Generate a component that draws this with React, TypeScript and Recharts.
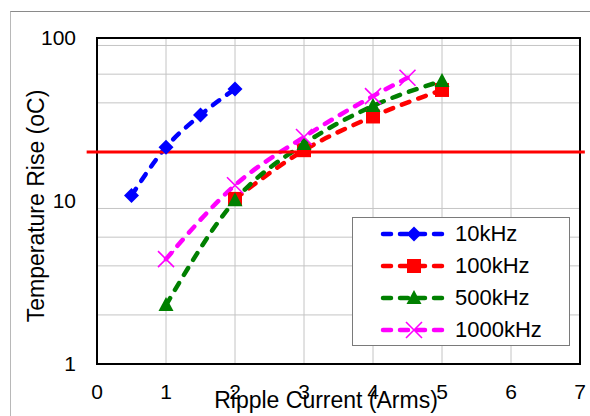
import React from "react";
import {
  LineChart, Line, XAxis, YAxis, CartesianGrid, ReferenceLine, ReferenceArea, Legend,
} from "recharts";

const FONT = '"Liberation Sans", Arial, sans-serif';

// ripple current (Arms) / temperature rise (oC)
const current10k = [0.5, 1, 1.5, 2];
const rise10k = [10.8, 21.4, 33.7, 48.7];
const current100k = [2, 3, 4, 5];
const rise100k = [10.3, 20.5, 33, 48];
const current500k = [1, 2, 3, 4, 5];
const rise500k = [2.3, 10.1, 22.4, 38.3, 54.5];
const current1000k = [1, 2, 3, 4, 4.5];
const rise1000k = [4.4, 12.5, 24.7, 44, 57];

const limitRise = 20;
const xTicks = [0, 1, 2, 3, 4, 5, 6, 7];
const yTicks = [1, 10, 100];
const yMinor = [2, 3, 4, 5, 6, 7, 8, 9, 20, 30, 40, 50, 60, 70, 80, 90];
const xGrid = [1, 2, 3, 4, 5, 6];

const toPoints = (xs: number[], ys: number[]) => xs.map((x, i) => ({ x, y: ys[i] }));

type Shape = "diamond" | "square" | "triangle" | "cross";

const series: { name: string; color: string; shape: Shape; data: { x: number; y: number }[] }[] = [
  { name: "10kHz", color: "#0000ff", shape: "diamond", data: toPoints(current10k, rise10k) },
  { name: "100kHz", color: "#ff0000", shape: "square", data: toPoints(current100k, rise100k) },
  { name: "500kHz", color: "#008000", shape: "triangle", data: toPoints(current500k, rise500k) },
  { name: "1000kHz", color: "#ff00ff", shape: "cross", data: toPoints(current1000k, rise1000k) },
];

function marker(shape: Shape, color: string, cx: number, cy: number) {
  switch (shape) {
    case "diamond":
      return <path d={`M${cx},${cy - 7.5}L${cx + 7.5},${cy}L${cx},${cy + 7.5}L${cx - 7.5},${cy}Z`} fill={color} />;
    case "square":
      return <rect x={cx - 7} y={cy - 7} width={14} height={14} fill={color} />;
    case "triangle":
      return <path d={`M${cx},${cy - 8}L${cx + 7.5},${cy + 6}L${cx - 7.5},${cy + 6}Z`} fill={color} />;
    default:
      return (
        <path
          d={`M${cx - 8},${cy - 8}L${cx + 8},${cy + 8}M${cx + 8},${cy - 8}L${cx - 8},${cy + 8}`}
          stroke={color} strokeWidth={1.6} fill="none"
        />
      );
  }
}

const makeDot = (shape: Shape, color: string) => (props: any) => {
  const { cx, cy, index } = props;
  if (cx == null || cy == null) return <g key={`e${index}`} />;
  return <g key={`d${index}`}>{marker(shape, color, cx, cy)}</g>;
};

function LegendBox() {
  return (
    <div style={{
      width: 216, height: 127, border: "1px solid #7a7a7a", background: "#fff",
      fontFamily: FONT, fontSize: 22, color: "#000",
    }}>
      {series.map((s) => (
        <div key={s.name} style={{ height: 32, display: "flex", alignItems: "center" }}>
          <svg width={76} height={20} style={{ marginLeft: 26 }}>
            <line x1={4} y1={10} x2={68} y2={10} stroke={s.color} strokeWidth={4.5}
              strokeDasharray="8 9" strokeLinecap="round" />
            {marker(s.shape, s.color, 35, 10)}
          </svg>
          <span>{s.name}</span>
        </div>
      ))}
    </div>
  );
}

export default function App() {
  return (
    <div style={{ position: "absolute", left: 0, top: 0, width: 590, height: 416, background: "#fff" }}>
      <div style={{
        position: "absolute", left: 10, top: 11, right: 0, bottom: 0,
        borderTop: "1px solid #8a8a8a", borderLeft: "1px solid #b8b8b8",
      }} />
      <LineChart width={590} height={416} margin={{ top: 38, right: 10, bottom: 0, left: 0 }}>
        <CartesianGrid stroke="#c4c4c4" horizontalValues={yMinor} verticalValues={xGrid} />
        <XAxis
          type="number" dataKey="x" domain={[0, 7]} ticks={xTicks} height={52}
          tickSize={0} tickMargin={20} axisLine={false} allowDataOverflow
          tick={{ fill: "#000", fontSize: 21, fontFamily: FONT }}
          label={{
            content: () => (
              <text x={326} y={408} textAnchor="middle" fontSize={23} fontFamily={FONT} fill="#000">
                Ripple Current (Arms)
              </text>
            ),
          }}
        />
        <YAxis
          type="number" scale="log" domain={[1, 100]} ticks={yTicks} width={97}
          tickSize={0} tickMargin={21} axisLine={false} allowDataOverflow
          tick={{ fill: "#000", fontSize: 21, fontFamily: FONT }}
          label={{
            content: () => (
              <text x={44} y={206} transform="rotate(-90 44 206)" textAnchor="middle"
                fontSize={23} fontFamily={FONT} fill="#000">
                Temperature Rise (oC)
              </text>
            ),
          }}
        />
        <ReferenceArea x1={0} x2={7} y1={1} y2={100} fill="none" fillOpacity={0}
          stroke="#000" strokeWidth={2} ifOverflow="visible" />
        {series.map((s) => (
          <Line
            key={s.name} data={s.data} dataKey="y" name={s.name} type="monotone"
            stroke={s.color} strokeWidth={4.5} strokeDasharray="8 9.5" strokeLinecap="round"
            dot={makeDot(s.shape, s.color)} activeDot={false} isAnimationActive={false}
          />
        ))}
        <ReferenceLine
          segment={[{ x: -0.15, y: limitRise }, { x: 7.07, y: limitRise }]}
          stroke="#ff0000" strokeWidth={3} ifOverflow="visible"
        />
        <Legend
          layout="horizontal" verticalAlign="middle"
          content={() => <LegendBox />}
          wrapperStyle={{ position: "absolute", left: 352, top: 217, width: 218, height: 129 }}
        />
      </LineChart>
    </div>
  );
}
